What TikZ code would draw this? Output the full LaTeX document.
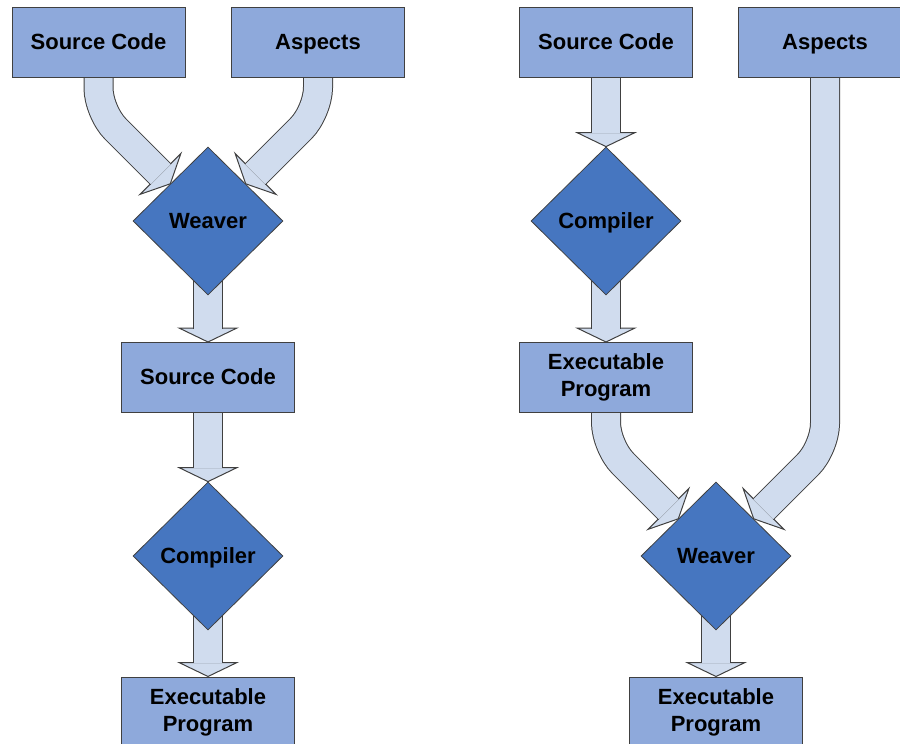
\documentclass[tikz,border=0pt]{standalone}
\usepackage{fontspec}
\setmainfont{Liberation Sans}
\usetikzlibrary{shapes.geometric,calc}
\pgfdeclarelayer{bg}
\pgfsetlayers{bg,main}
\definecolor{boxblue}{RGB}{142,169,219}
\definecolor{diamblue}{RGB}{70,118,192}
\definecolor{flowfill}{RGB}{208,220,238}
\definecolor{edgegray}{RGB}{64,64,64}

\tikzset{
  stepbox/.style={rectangle, draw=edgegray, line width=1pt, fill=boxblue,
    minimum width=173pt, minimum height=70pt, inner sep=0pt,
    font=\bfseries\fontsize{22}{27}\selectfont, align=center},
  oneline/.style={text height=17pt, text depth=4pt},
  decision/.style={diamond, draw=edgegray, line width=0.8pt, fill=diamblue,
    minimum width=150pt, minimum height=148pt, inner sep=0pt,
    text height=18pt, text depth=3pt,
    font=\bfseries\fontsize{22}{27}\selectfont},
  shaft/.style={draw=edgegray, line width=1pt, double=flowfill, double distance=28pt},
  headtri/.style={fill=flowfill, draw=edgegray, line width=1pt, line join=miter},
}

% arrow head with its tip at #1, pointing along the angle #2
\newcommand\flowhead[2]{%
  \filldraw[headtri, shift={(#1)}, rotate=#2] (0,0) -- (-14,29) -- (-14,-29) -- cycle;}

% straight block arrow going down from the centre of #1 to the anchor #2
\newcommand\straightflow[2]{%
  \flowhead{#2}{-90}
  \draw[shaft] (#1.center) -- ([yshift=13.4pt]#2);}

% block arrow that leaves #1 downwards and bends into a 45 degree run to #2
\newcommand\bentflow[3]{%
  \path let \p1=(#1), \p2=(#2), \n1={abs(\x2-\x1)} in
    coordinate (bend) at (\x1,{\y2+\n1});
  \flowhead{#2}{#3}
  \draw[shaft, rounded corners=24pt] (#1) -- (bend) -- ($(#2)!13.4pt!(bend)$);}

\begin{document}
\begin{tikzpicture}[x=1pt, y=-1pt]
\useasboundingbox (0,0) rectangle (900,744);

% weaving before compiling
\node[stepbox, oneline] (lsrc)   at (98.5,42.5) {Source Code};
\node[stepbox, oneline] (lasp)   at (318,42.5)  {Aspects};
\node[decision]         (lweave) at (208,221)   {Weaver};
\node[stepbox, oneline] (lsrc2)  at (208,377.5) {Source Code};
\node[decision]         (lcomp)  at (208,556)   {Compiler};
\node[stepbox]          (lexe)   at (208,712)   {Executable\\Program};

% weaving after compiling
\node[stepbox, oneline] (rsrc)   at (606,42.5)  {Source Code};
\node[stepbox, oneline] (rasp)   at (825,42.5)  {Aspects};
\node[decision]         (rcomp)  at (606,221)   {Compiler};
\node[stepbox]          (rexe)   at (606,377.5) {Executable\\Program};
\node[decision]         (rweave) at (716,556)   {Weaver};
\node[stepbox]          (rexe2)  at (716,712)   {Executable\\Program};

\begin{pgfonlayer}{bg}
  \bentflow{lsrc.south}{lweave.north west}{-45}
  \bentflow{lasp.south}{lweave.north east}{-135}
  \straightflow{lweave}{lsrc2.north}
  \straightflow{lsrc2}{lcomp.north}
  \straightflow{lcomp}{lexe.north}

  \straightflow{rsrc}{rcomp.north}
  \straightflow{rcomp}{rexe.north}
  \bentflow{rexe.south}{rweave.north west}{-45}
  \bentflow{rasp.south}{rweave.north east}{-135}
  \straightflow{rweave}{rexe2.north}
\end{pgfonlayer}
\end{tikzpicture}
\end{document}
